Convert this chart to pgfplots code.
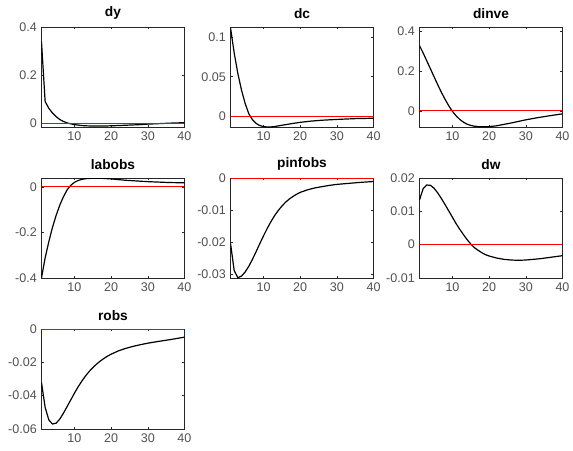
\documentclass[border=0pt]{standalone}
\usepackage{pgfplots}
\pgfplotsset{compat=1.18}
\usepackage{fontspec}
\setmainfont{Liberation Sans}
\definecolor{axgray}{RGB}{38,38,38}
\definecolor{lblgray}{RGB}{80,80,80}
\pgfplotsset{irf/.style={
  scale only axis, width=107.25pt, height=75pt,
  xmin=1, xmax=40, xtick={10,20,30,40}, xticklabels={10,20,30,40},
  scaled y ticks=false, scaled x ticks=false,
  anchor=north west,
  tick align=inside, major tick length=1.6pt,
  axis line style={draw=axgray, line width=0.55pt},
  tick style={draw=axgray, line width=0.45pt},
  ticklabel style={font=\fontsize{9.4}{10}\selectfont, text=lblgray},
  title style={font=\bfseries\fontsize{10.3}{12}\selectfont, yshift=-3.5pt},
  clip=true,
}}
\begin{document}
\begin{tikzpicture}
\path[use as bounding box] (0,0) rectangle (429.75pt,-337.5pt);
% dy
\begin{axis}[irf, at={(31.1pt,-20.25pt)}, title={dy}, ymin=-0.016, ymax=0.4,
  ytick={0,0.2,0.4}, yticklabels={0,0.2,0.4}]
\addplot[black, line width=0.9pt] coordinates {(1,0.34)(2,0.09)(3,0.062)(4,0.042)(5,0.027)(6,0.015)(7,0.007)(8,0.001)(9,-0.003)(10,-0.006)(11,-0.008)(12,-0.010)(13,-0.011)(14,-0.0115)(15,-0.012)(16,-0.012)(18,-0.012)(20,-0.011)(22,-0.010)(25,-0.008)(28,-0.006)(30,-0.004)(33,-0.002)(36,0.0)(38,0.001)(40,0.002)};
\addplot[red, line width=0.75pt] coordinates {(1,0)(40,0)};
\end{axis}
% dc
\begin{axis}[irf, at={(172.9pt,-20.25pt)}, title={dc}, ymin=-0.0136, ymax=0.113,
  ytick={0,0.05,0.1}, yticklabels={0,0.05,0.1}]
\addplot[black, line width=0.9pt] coordinates {(1,0.112)(2,0.08)(3,0.054)(4,0.033)(5,0.016)(6,0.003)(7,-0.0045)(8,-0.0092)(9,-0.0118)(10,-0.0131)(11,-0.0136)(12,-0.0135)(13,-0.013)(14,-0.0122)(16,-0.0106)(18,-0.0091)(20,-0.0077)(23,-0.0061)(26,-0.005)(30,-0.004)(35,-0.003)(40,-0.0025)};
\addplot[red, line width=0.75pt] coordinates {(1,0)(40,0)};
\end{axis}
% dinve
\begin{axis}[irf, at={(314.6pt,-20.25pt)}, title={dinve}, ymin=-0.081, ymax=0.42,
  ytick={0,0.2,0.4}, yticklabels={0,0.2,0.4}]
\addplot[black, line width=0.9pt] coordinates {(1,0.327)(2,0.29)(3,0.25)(4,0.21)(5,0.17)(6,0.13)(7,0.092)(8,0.057)(9,0.025)(10,-0.003)(11,-0.025)(12,-0.043)(13,-0.057)(14,-0.067)(15,-0.073)(16,-0.077)(17,-0.079)(18,-0.080)(19,-0.080)(20,-0.079)(22,-0.075)(24,-0.068)(26,-0.061)(28,-0.053)(30,-0.045)(33,-0.035)(36,-0.026)(40,-0.015)};
\addplot[red, line width=0.75pt] coordinates {(1,0)(40,0)};
\end{axis}
% labobs
\begin{axis}[irf, at={(31.1pt,-133.5pt)}, title={labobs}, ymin=-0.4, ymax=0.039,
  ytick={-0.4,-0.2,0}, yticklabels={-0.4,-0.2,0}]
\addplot[black, line width=0.9pt] coordinates {(1,-0.4)(2,-0.312)(3,-0.241)(4,-0.178)(5,-0.125)(6,-0.08)(7,-0.043)(8,-0.013)(9,0.007)(10,0.02)(11,0.028)(12,0.033)(13,0.036)(14,0.037)(15,0.038)(16,0.038)(17,0.038)(18,0.037)(20,0.035)(22,0.032)(24,0.029)(26,0.027)(28,0.025)(30,0.023)(33,0.021)(36,0.019)(40,0.018)};
\addplot[red, line width=0.75pt] coordinates {(1,0)(40,0)};
\end{axis}
% pinfobs
\begin{axis}[irf, at={(172.9pt,-133.5pt)}, title={pinfobs}, ymin=-0.0313, ymax=0,
  ytick={-0.03,-0.02,-0.01,0}, yticklabels={-0.03,-0.02,-0.01,0}]
\addplot[black, line width=0.9pt] coordinates {(1,-0.0205)(2,-0.029)(3,-0.0312)(4,-0.0307)(5,-0.0294)(6,-0.0276)(7,-0.0254)(8,-0.023)(9,-0.0205)(10,-0.0181)(11,-0.0158)(12,-0.0137)(13,-0.0118)(14,-0.0102)(15,-0.0088)(16,-0.0076)(17,-0.0066)(18,-0.0058)(19,-0.0051)(20,-0.0045)(22,-0.0037)(24,-0.0031)(26,-0.0027)(28,-0.0023)(30,-0.002)(33,-0.0017)(36,-0.0014)(40,-0.0011)};
\addplot[red, line width=0.75pt] coordinates {(1,0)(40,0)};
\end{axis}
% dw
\begin{axis}[irf, at={(314.6pt,-133.5pt)}, title={dw}, ymin=-0.01, ymax=0.02,
  ytick={-0.01,0,0.01,0.02}, yticklabels={-0.01,0,0.01,0.02}]
\addplot[black, line width=0.9pt] coordinates {(1,0.0134)(2,0.0168)(3,0.0179)(4,0.0178)(5,0.0169)(6,0.0155)(7,0.0138)(8,0.012)(9,0.0101)(10,0.0082)(11,0.0063)(12,0.0046)(13,0.003)(14,0.0015)(15,0.0002)(16,-0.0009)(17,-0.0017)(18,-0.0024)(19,-0.003)(20,-0.0034)(22,-0.004)(24,-0.0044)(26,-0.0046)(28,-0.0047)(30,-0.0046)(32,-0.0044)(34,-0.0042)(36,-0.0039)(38,-0.0036)(40,-0.0033)};
\addplot[red, line width=0.75pt] coordinates {(1,0)(40,0)};
\end{axis}
% robs
\begin{axis}[irf, at={(31.1pt,-246.75pt)}, title={robs}, ymin=-0.06, ymax=0,
  ytick={-0.06,-0.04,-0.02,0}, yticklabels={-0.06,-0.04,-0.02,0}]
\addplot[black, line width=0.9pt] coordinates {(1,-0.032)(2,-0.047)(3,-0.0545)(4,-0.057)(5,-0.0565)(6,-0.054)(7,-0.0505)(8,-0.0465)(9,-0.0425)(10,-0.0385)(11,-0.0347)(12,-0.0313)(13,-0.0282)(14,-0.0255)(15,-0.0232)(16,-0.0211)(17,-0.0193)(18,-0.0177)(19,-0.0163)(20,-0.0151)(22,-0.0131)(24,-0.0116)(26,-0.0104)(28,-0.0094)(30,-0.0085)(33,-0.0074)(36,-0.0064)(40,-0.0049)};
\addplot[red, line width=0.75pt] coordinates {(1,0)(40,0)};
\end{axis}
\end{tikzpicture}
\end{document}
